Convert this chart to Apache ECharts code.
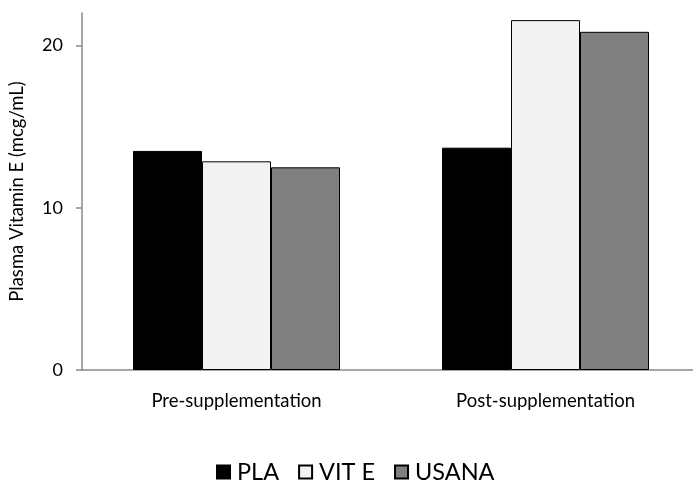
<!DOCTYPE html>
<html><head><meta charset="utf-8">
<script src="https://cdn.jsdelivr.net/npm/echarts@6/dist/echarts.min.js"></script>
<style>html,body{margin:0;padding:0;background:#fff;overflow:hidden}#c{width:700px;height:485px}</style>
</head><body><div id="c"></div>
<script>
var categories = ['Pre-supplementation', 'Post-supplementation'];
var seriesNames = ['PLA', 'VIT E', 'USANA'];
var pla = [13.5, 13.7];
var vitE = [12.86, 21.56];
var usana = [12.49, 20.84];
var yTicks = [0, 10, 20];

var font = 'Lato';
var chart = echarts.init(document.getElementById('c'));
var colors = ['#000000', '#f2f2f2', '#808080'];
var data = [pla, vitE, usana];
chart.setOption({
  animation: false,
  textStyle: {fontFamily: font},
  grid: {left: 82, right: 0, top: 13, bottom: 115, containLabel: false},
  legend: {
    bottom: -4, left: 216, padding: [5, 5, 5, 0],
    itemWidth: 13, itemHeight: 13, itemGap: 19,
    textStyle: {fontFamily: font, fontSize: 23.5, color: '#000', padding: [0,0,0,2]},
    data: seriesNames.map(function(n){return {name:n, icon:'rect'};})
  },
  xAxis: {
    type: 'category', data: categories,
    axisLine: {lineStyle: {color: '#898989', width: 1.5}},
    axisTick: {show: false},
    axisLabel: {fontFamily: font, fontSize: 18.5, color: '#000', margin: 22}
  },
  yAxis: {
    type: 'value', min: 0, max: 22, interval: 10,
    name: 'Plasma Vitamin E (mcg/mL)', nameLocation: 'middle', nameGap: 55,
    nameTextStyle: {fontFamily: font, fontSize: 18.5, color: '#000'},
    splitLine: {show: false},
    axisLine: {show: true, lineStyle: {color: '#898989', width: 1.5}},
    axisTick: {show: true, length: 6, customValues: yTicks, lineStyle: {color: '#898989', width: 1.5}},
    axisLabel: {fontFamily: font, fontSize: 18, color: '#000', margin: 19, customValues: yTicks}
  },
  series: seriesNames.map(function(n, i){
    return {
      name: n, type: 'bar', data: data[i],
      barGap: 0, barCategoryGap: '33%',
      itemStyle: {color: colors[i], borderColor: '#000', borderWidth: 1}
    };
  })
});
</script></body></html>
